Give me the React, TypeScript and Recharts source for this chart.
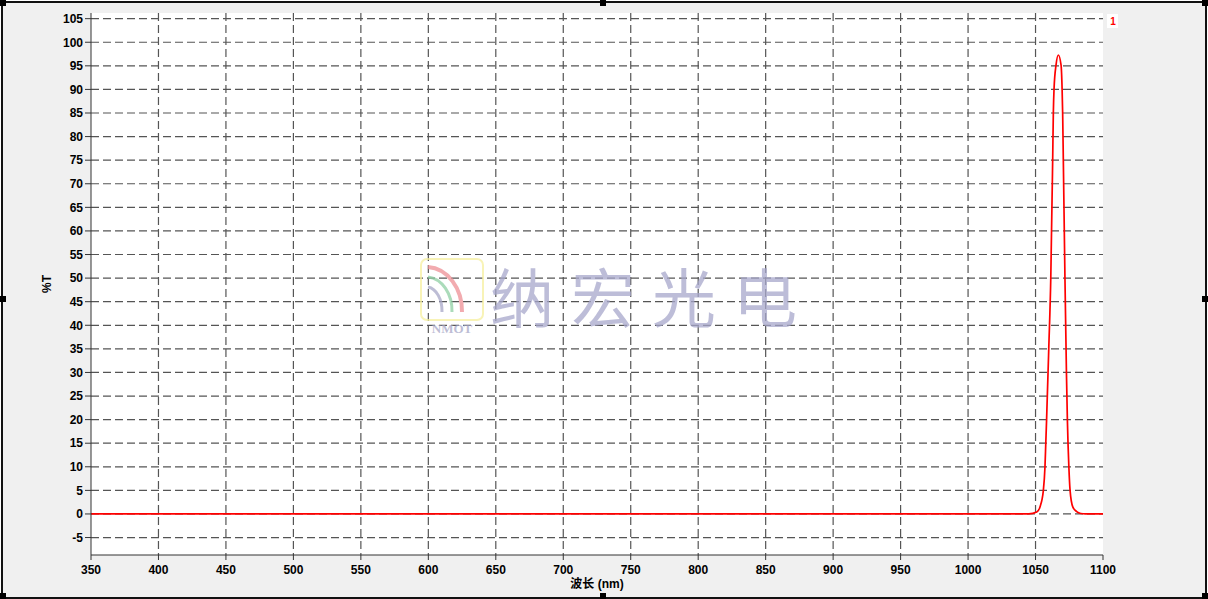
import { LineChart, Line, XAxis, YAxis, CartesianGrid } from "recharts";

// wavelength (nm) and transmission (%T)
const wavelength = [
  350, 1045, 1050.9, 1053.3, 1055.8, 1057.0, 1057.6, 1058.2, 1059.8, 1061.3,
  1062.7, 1063.2, 1063.7, 1065.2, 1066.9, 1068.9, 1069.7, 1070.1, 1070.6,
  1071.8, 1072.9, 1073.6, 1074.7, 1075.6, 1077.6, 1080.5, 1083.5, 1087, 1100,
];
const transmission = [
  0, 0, 0.4, 1.5, 5, 10, 15, 20, 35, 50, 75, 85, 90, 95.2, 97.3, 95.2, 90, 85,
  75, 50, 30, 20, 10, 5, 1.5, 0.5, 0.1, 0, 0,
];

const xTicks = [350, 400, 450, 500, 550, 600, 650, 700, 750, 800, 850, 900, 950, 1000, 1050, 1100];
const yTicks = [-5, 0, 5, 10, 15, 20, 25, 30, 35, 40, 45, 50, 55, 60, 65, 70, 75, 80, 85, 90, 95, 100, 105];

const data = wavelength.map((w, i) => ({ w, t: transmission[i] }));

const FONT = "'Liberation Sans', Arial, 'Noto Sans CJK SC', sans-serif";
const tickStyle = { fill: "#000", fontSize: 12, fontWeight: 700, fontFamily: FONT };

const handles = [
  [0, 0], [600, 0], [1202, 0],
  [0, 296], [1202, 296],
  [0, 593], [600, 593], [1202, 593],
];

export default function App() {
  return (
    <div style={{ position: "absolute", left: 0, top: 0, width: 1208, height: 599, background: "#fff" }}>
      <div
        style={{
          position: "absolute",
          left: 1,
          top: 1,
          width: 1202,
          height: 594,
          background: "#f0f0f0",
          border: "2px solid #111",
        }}
      />
      <div style={{ position: "absolute", left: 0, top: 0 }}>
        <LineChart width={1208} height={599} data={data} margin={{ top: 13, right: 105, bottom: 0, left: 0 }}>
          <CartesianGrid
            fill="#fff"
            stroke="#555"
            strokeWidth={1.2}
            strokeDasharray="8 4"
            horizontalValues={yTicks}
            verticalValues={xTicks.slice(1, -1)}
          />
          <XAxis
            dataKey="w"
            type="number"
            domain={[350, 1100]}
            ticks={xTicks}
            interval={0}
            tick={tickStyle}
            tickSize={5}
            tickMargin={5}
            height={44}
            stroke="#333"
            label={{ value: "波长 (nm)", position: "insideBottom", offset: 11, fill: "#000", fontSize: 12, fontWeight: 700, fontFamily: FONT }}
          />
          <YAxis
            type="number"
            domain={[-8.7, 106.2]}
            allowDataOverflow
            ticks={yTicks}
            interval={0}
            tick={tickStyle}
            tickSize={6}
            tickMargin={2}
            width={91}
            stroke="#333"
            label={{ value: "%T", angle: -90, position: "center", dx: 1, fill: "#000", fontSize: 12, fontWeight: 700, fontFamily: FONT }}
          />
          <Line
            dataKey="t"
            type="monotone"
            stroke="#ff0000"
            strokeWidth={1.7}
            dot={false}
            isAnimationActive={false}
          />
        </LineChart>
      </div>
      <svg
        width={1208}
        height={599}
        style={{ position: "absolute", left: 0, top: 0, pointerEvents: "none" }}
      >
        <g opacity={0.75}>
          <rect x={421} y={259} width={62} height={61} rx={6} fill="none" stroke="#f6f0a0" strokeWidth={2} />
          <path d="M428 267 A 36 44 0 0 1 462 312" fill="none" stroke="#ee8f95" strokeWidth={4} />
          <path d="M428 277 A 26 34 0 0 1 452 312" fill="none" stroke="#8fd0a4" strokeWidth={3} />
          <path d="M428 287 A 16 24 0 0 1 442 312" fill="none" stroke="#a8a8c8" strokeWidth={3} />
          <text x={452} y={333} textAnchor="middle" fontSize={13} fontWeight={700} fill="#a8a8c8" fontFamily="'Liberation Serif', serif">
            NMOT
          </text>
          <text
            x={490}
            y={322}
            fontSize={64}
            letterSpacing={17}
            fill="#a8a8cc"
            fontFamily="'Noto Sans CJK SC', sans-serif"
          >
            纳宏光电
          </text>
        </g>
        <rect x={1107} y={14} width={11} height={14} fill="#fff" />
        <text x={1113} y={25} textAnchor="middle" fontSize={10} fontWeight={700} fill="#ff0000" fontFamily={FONT}>
          1
        </text>
        {handles.map(([x, y], i) => (
          <rect key={i} x={x} y={y} width={6} height={6} fill="#000" />
        ))}
      </svg>
    </div>
  );
}
